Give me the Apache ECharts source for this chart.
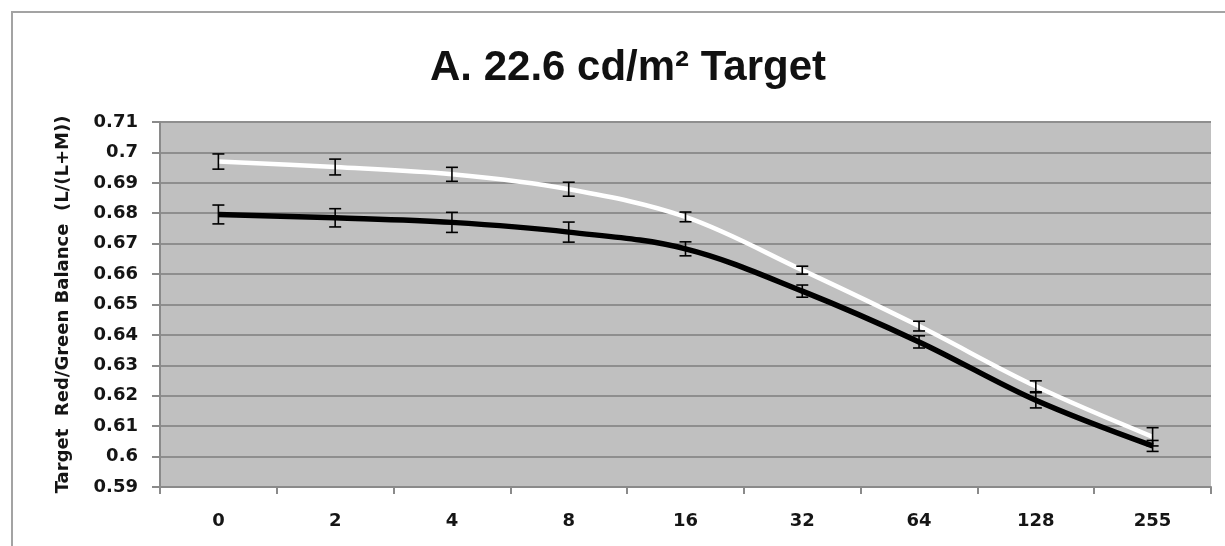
<!DOCTYPE html>
<html>
<head>
<meta charset="utf-8">
<script src="https://cdn.jsdelivr.net/npm/echarts@6/dist/echarts.min.js"></script>
<style>
  html, body { margin: 0; padding: 0; background: #ffffff; }
  #chart { width: 1225px; height: 546px; }
</style>
</head>
<body>
<div id="chart"></div>
<script>
// Background luminance steps (x axis)
const categories = ['0', '2', '4', '8', '16', '32', '64', '128', '255'];

// Mean target balance L/(L+M) and standard errors
const whiteMeans = [0.6970, 0.6952, 0.6928, 0.6879, 0.6788, 0.6613, 0.6429, 0.6231, 0.6065];
const whiteErrors = [0.0025, 0.0026, 0.0023, 0.0023, 0.0016, 0.0013, 0.0016, 0.0018, 0.0030];
const blackMeans = [0.6796, 0.6785, 0.6770, 0.6738, 0.6683, 0.6544, 0.6377, 0.6185, 0.6035];
const blackErrors = [0.0031, 0.0030, 0.0033, 0.0033, 0.0023, 0.0020, 0.0020, 0.0025, 0.0018];

// Y axis range and step
const yMin = 0.59;
const yMax = 0.71;
const yStep = 0.01;

const chartTitle = 'A. 22.6 cd/m\u00B2 Target';
const yAxisTitle = 'Target  Red/Green Balance  (L/(L+M))';

function errorRows(means, errs) {
  return means.map((m, i) => [i, m - errs[i], m + errs[i]]);
}

function renderErrorBar(params, api) {
  const idx = api.value(0);
  const lo = api.coord([idx, api.value(1)]);
  const hi = api.coord([idx, api.value(2)]);
  const half = 6;
  const style = { stroke: '#000000', lineWidth: 1.6 };
  return {
    type: 'group',
    children: [
      { type: 'line', shape: { x1: hi[0], y1: hi[1], x2: lo[0], y2: lo[1] }, style },
      { type: 'line', shape: { x1: hi[0] - half, y1: hi[1], x2: hi[0] + half, y2: hi[1] }, style },
      { type: 'line', shape: { x1: lo[0] - half, y1: lo[1], x2: lo[0] + half, y2: lo[1] }, style }
    ]
  };
}

const labelFont = 'DejaVu Sans';
const chart = echarts.init(document.getElementById('chart'), null, { renderer: 'canvas' });

chart.setOption({
  animation: false,
  backgroundColor: '#ffffff',
  graphic: [
    {
      type: 'rect',
      z: -10,
      shape: { x: 12, y: 12, width: 1400, height: 1000 },
      style: { fill: 'none', stroke: '#a3a3a3', lineWidth: 2 },
      silent: true
    }
  ],
  title: {
    text: chartTitle,
    left: 623,
    textAlign: 'center',
    top: 42,
    textStyle: {
      fontFamily: 'Liberation Sans',
      fontWeight: 'bold',
      fontSize: 42,
      color: '#111111'
    }
  },
  grid: {
    left: 160,
    right: 14,
    top: 122,
    bottom: 59,
    show: true,
    backgroundColor: '#c0c0c0',
    borderWidth: 0
  },
  xAxis: {
    type: 'category',
    data: categories,
    boundaryGap: true,
    axisLine: { show: true, lineStyle: { color: '#8a8a8a', width: 2 } },
    axisTick: { show: true, length: 7, lineStyle: { color: '#8a8a8a', width: 2 } },
    axisLabel: {
      margin: 25,
      fontFamily: labelFont,
      fontWeight: 'bold',
      fontSize: 18,
      color: '#151515'
    },
    splitLine: { show: false }
  },
  yAxis: {
    type: 'value',
    min: yMin,
    max: yMax,
    interval: yStep,
    name: yAxisTitle,
    nameLocation: 'middle',
    nameGap: 88,
    nameRotate: 90,
    nameTextStyle: {
      fontFamily: labelFont,
      fontWeight: 'bold',
      fontSize: 18,
      color: '#151515'
    },
    axisLine: { show: true, lineStyle: { color: '#8a8a8a', width: 2 } },
    axisTick: { show: true, length: 8, lineStyle: { color: '#8a8a8a', width: 2 } },
    axisLabel: {
      margin: 22,
      fontFamily: labelFont,
      fontWeight: 'bold',
      fontSize: 18,
      color: '#151515',
      formatter: v => String(+v.toFixed(2))
    },
    splitLine: { show: true, lineStyle: { color: '#8e8e8e', width: 2 } }
  },
  series: [
    {
      name: 'black',
      type: 'line',
      data: blackMeans,
      smooth: 0.35,
      symbol: 'none',
      lineStyle: { color: '#000000', width: 5.5 },
      z: 3
    },
    {
      name: 'white',
      type: 'line',
      data: whiteMeans,
      smooth: 0.35,
      symbol: 'none',
      lineStyle: { color: '#ffffff', width: 4.5 },
      z: 4
    },
    {
      name: 'blackErr',
      type: 'custom',
      data: errorRows(blackMeans, blackErrors),
      renderItem: renderErrorBar,
      encode: { x: 0, y: [1, 2] },
      z: 10
    },
    {
      name: 'whiteErr',
      type: 'custom',
      data: errorRows(whiteMeans, whiteErrors),
      renderItem: renderErrorBar,
      encode: { x: 0, y: [1, 2] },
      z: 10
    }
  ]
});
</script>
</body>
</html>
